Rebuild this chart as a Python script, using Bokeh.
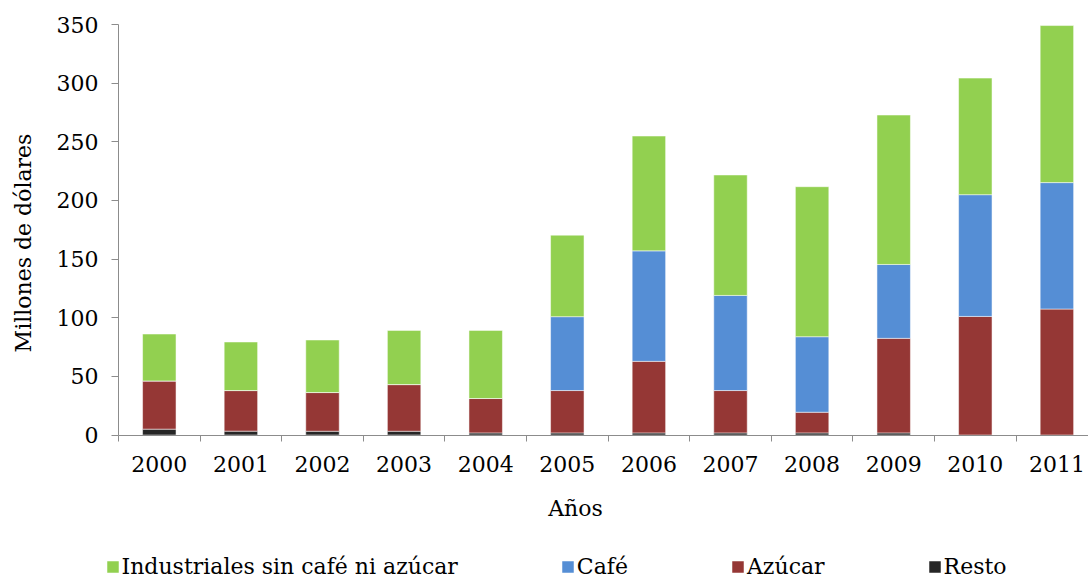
import math
from bokeh.plotting import figure
from bokeh.models import (ColumnDataSource, Range1d, FixedTicker, Legend, LegendItem, Label)
from bokeh.embed import file_html
from bokeh.resources import INLINE

years = ["2000", "2001", "2002", "2003", "2004", "2005",
         "2006", "2007", "2008", "2009", "2010", "2011"]
resto = [5.0, 3.3, 3.2, 3.2, 1.8, 1.8, 1.8, 1.8, 1.8, 1.8, 0.0, 0.0]
azucar = [41.1, 34.6, 33.0, 39.8, 29.3, 36.1, 61.0, 36.1, 17.6, 80.6, 101.1, 107.4]
cafe = [0.0, 0.0, 0.0, 0.0, 0.0, 63.0, 94.2, 81.1, 64.4, 63.0, 103.8, 107.8]
industriales = [40.0, 41.4, 44.8, 46.2, 58.1, 69.5, 97.9, 102.7, 127.9, 127.4, 99.4, 133.9]
y_ticks = [0, 50, 100, 150, 200, 250, 300, 350]

series = ["resto", "azucar", "cafe", "industriales"]
labels = {"resto": "Resto", "azucar": "Azúcar", "cafe": "Café",
          "industriales": "Industriales sin café ni azúcar"}
colors = {"resto": "#262626", "azucar": "#953735", "cafe": "#558ED5",
          "industriales": "#92D050"}

x = list(range(len(years)))
source = ColumnDataSource(dict(x=x, resto=resto, azucar=azucar, cafe=cafe,
                               industriales=industriales))

FONT = "DejaVu Serif"
W, H = 1088, 578
# plot area in pixels (axes drawn at fixed locations inside the frame)
LEFT, TOP, BOTTOM = 118.0, 24.0, 434.5
CAT_PX = 81.6
YMAX = 350.0
ypx = (BOTTOM - TOP) / YMAX
x_start = -0.5 - LEFT / CAT_PX
x_end = -0.5 + (W - LEFT) / CAT_PX
y_end = YMAX + TOP / ypx
y_start = -(H - BOTTOM) / ypx

p = figure(width=W, height=H, output_backend="svg", toolbar_location=None,
           x_range=Range1d(x_start, x_end), y_range=Range1d(y_start, y_end),
           min_border=0)
p.outline_line_color = None
p.xgrid.grid_line_color = None
p.ygrid.grid_line_color = None

renderers = p.vbar_stack(series, x="x", width=0.41, source=source,
                         color=[colors[s] for s in series],
                         line_color="white", line_alpha=0.5, line_width=1)
rmap = dict(zip(series, renderers))

AXIS_COLOR = "#8c8c8c"

# x axis: labels at category centres, tick marks between categories
xa = p.xaxis[0]
xa.fixed_location = 0
xa.bounds = (-0.5, x_end + 1)
xa.ticker = FixedTicker(ticks=x, minor_ticks=[i - 0.5 for i in range(len(years) + 1)])
xa.major_label_overrides = {i: y for i, y in enumerate(years)}
xa.major_tick_out = 0
xa.major_tick_in = 0
xa.minor_tick_out = 6
xa.minor_tick_in = 0
xa.minor_tick_line_color = AXIS_COLOR
xa.axis_line_color = AXIS_COLOR
xa.major_label_standoff = 15

ya = p.yaxis[0]
ya.fixed_location = -0.5
ya.bounds = (0, YMAX)
ya.ticker = FixedTicker(ticks=y_ticks)
ya.major_tick_out = 7
ya.major_tick_in = 0
ya.minor_tick_line_color = None
ya.major_tick_line_color = AXIS_COLOR
ya.axis_line_color = AXIS_COLOR
ya.major_label_standoff = 13

for ax in (xa, ya):
    ax.major_label_text_font = FONT
    ax.major_label_text_font_size = "22px"
    ax.major_label_text_color = "black"

# axis titles
p.add_layout(Label(x=575, y=H - 508, x_units="screen", y_units="screen",
                   text="Años", text_font=FONT, text_font_size="22px",
                   text_color="black", text_align="center", text_baseline="middle"))
p.add_layout(Label(x=22.5, y=H - 242.5, x_units="screen", y_units="screen",
                   text="Millones de dólares", angle=math.pi / 2,
                   text_font=FONT, text_font_size="22px",
                   text_color="black", text_align="center", text_baseline="middle"))

legend_order = ["industriales", "cafe", "azucar", "resto"]
legend = Legend(items=[LegendItem(label=labels[k], renderers=[rmap[k]]) for k in legend_order],
                location=(104.5, -1), orientation="horizontal",
                padding=0, margin=0, spacing=102,
                glyph_width=15, glyph_height=15, label_standoff=2,
                label_text_font=FONT, label_text_font_size="22px",
                label_text_color="black",
                border_line_color=None, background_fill_alpha=0)
p.add_layout(legend, "center")

open("out.html", "w").write(file_html(p, INLINE))
